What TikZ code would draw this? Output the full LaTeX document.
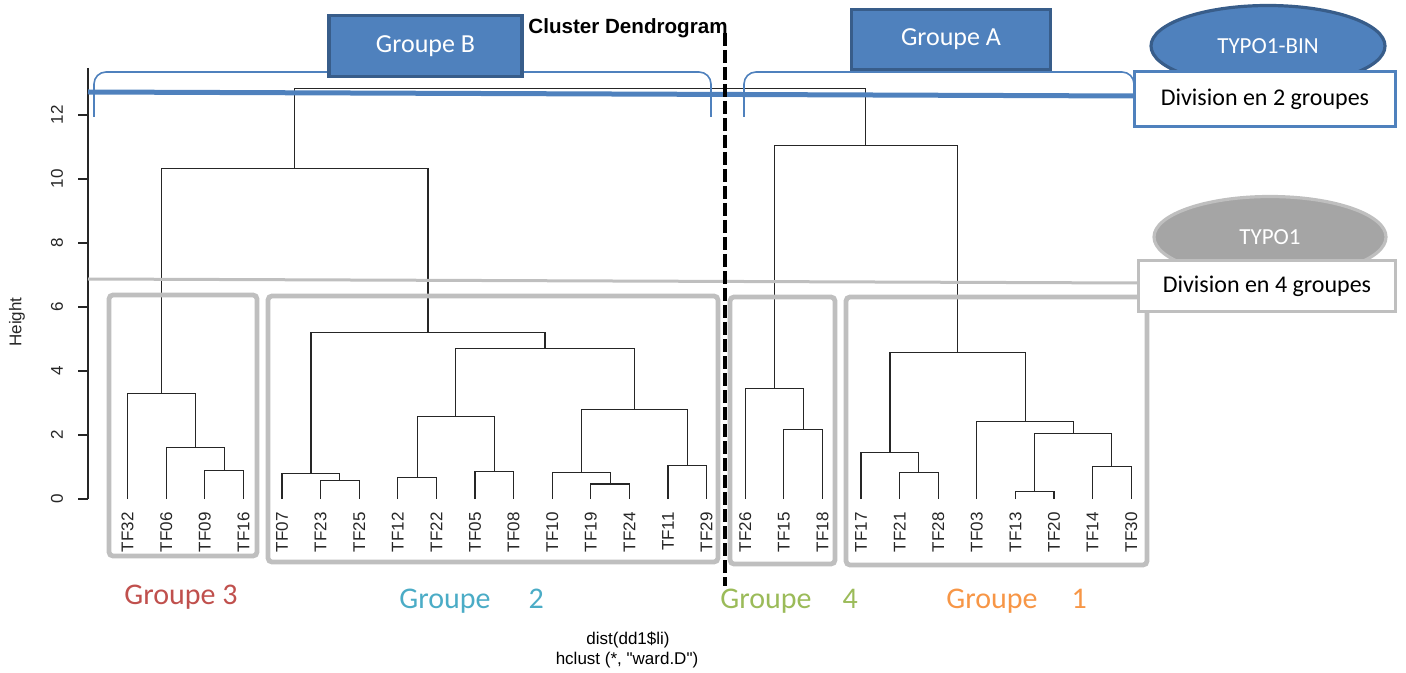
\documentclass[tikz,border=0pt]{standalone}
\usepackage{fontspec}
\usepackage{tikz}
\usetikzlibrary{calc,shapes.geometric}
\newfontfamily\rfont{Liberation Sans}
\newfontfamily\calib{Carlito}
\definecolor{bleu}{HTML}{4F81BD}
\definecolor{bleufonce}{HTML}{385D8A}
\definecolor{gris}{HTML}{BFBFBF}
\definecolor{grisfonce}{HTML}{A5A5A5}
\definecolor{rouge}{HTML}{C0504D}
\definecolor{turquoise}{HTML}{4BACC6}
\definecolor{vert}{HTML}{9BBB59}
\definecolor{orangeclair}{HTML}{F79646}
\tikzstyle{branch}=[
	-,
	draw=black!85,
	line width=0.55pt
]
\tikzstyle{leaf}=[
    rotate=90,
    anchor=east,
    inner sep=0pt,
    text=black!85,
    font=\rfont\fontsize{8.5}{10}\selectfont
]
\tikzstyle{graduation}=[
    rotate=90,
    inner sep=0pt,
    text=black!85,
    font=\rfont\fontsize{8.5}{10}\selectfont
]
\tikzstyle{cadre}=[
    draw=gris,
    line width=2.4pt,
    rounded corners=2pt
]
\tikzstyle{accolade}=[
    draw=bleu,
    line width=0.8pt,
    rounded corners=6pt
]
\tikzstyle{typo}=[
    ellipse,
    inner sep=0pt,
    line width=1.6pt,
    text=white,
    font=\calib\fontsize{11.5}{14}\selectfont
]
\tikzstyle{division}=[
    draw,
    fill=white,
    line width=1.6pt,
    inner sep=0pt,
    font=\calib\fontsize{12}{14}\selectfont
]
\tikzstyle{groupe}=[
    draw=bleufonce,
    fill=bleu,
    line width=1.8pt,
    inner sep=0pt,
    text=white,
    font=\calib\fontsize{13}{15}\selectfont
]
\tikzstyle{etiquette}=[
    anchor=west,
    inner sep=0pt,
    font=\calib\fontsize{15}{17}\selectfont
]
\tikzstyle{separation}=[
    draw=black,
    line width=2pt,
    dash pattern=on 6.5pt off 2pt
]
% junction of two branches at a given height
\newcommand{\fusion}[4]{%
  \coordinate (mid) at ($(#1)!0.5!(#2)$);
  \coordinate (hy) at (0,{499-32*#3});
  \coordinate (#4) at (mid |- hy);
  \draw[branch] (#1) |- (#4) -| (#2);
}

\begin{document}
\begin{tikzpicture}[x=0.5pt,y=-0.5pt]
\useasboundingbox (0,0) rectangle (1406,673);

\node[font=\rfont\bfseries\fontsize{10.3}{12}\selectfont, inner sep=0pt] (titre) at (628,28) {Cluster Dendrogram};

% axis
\draw[branch] (88,68) -- (88,499);
\foreach \h in {0,2,...,12} {
  \draw[branch] (78,{499-32*\h}) -- (88,{499-32*\h});
  \node[graduation] (t\h) at (57,{499-32*\h}) {\h};
}
\node[graduation] (ylab) at (17,322) {Height};

% leaves
\foreach \f [count=\i from 0] in {TF32,TF06,TF09,TF16,TF07,TF23,TF25,TF12,TF22,TF05,TF08,TF10,TF19,TF24,TF11,TF29,TF26,TF15,TF18,TF17,TF21,TF28,TF03,TF13,TF20,TF14,TF30} {
  \coordinate (\f) at ({127.6+38.6*\i},499);
  \node[leaf] (l\f) at ({127.6+38.6*\i},512) {\f};
}

\fusion{TF09}{TF16}{0.90}{m1}
\fusion{TF06}{m1}{1.60}{m2}
\fusion{TF32}{m2}{3.29}{g3}
\fusion{TF23}{TF25}{0.59}{m3}
\fusion{TF07}{m3}{0.80}{m4}
\fusion{TF12}{TF22}{0.67}{m5}
\fusion{TF05}{TF08}{0.85}{m6}
\fusion{m5}{m6}{2.59}{m7}
\fusion{TF19}{TF24}{0.47}{m8}
\fusion{TF10}{m8}{0.83}{m9}
\fusion{TF11}{TF29}{1.06}{m10}
\fusion{m9}{m10}{2.80}{m11}
\fusion{m7}{m11}{4.69}{m12}
\fusion{m4}{m12}{5.19}{g2}
\fusion{g3}{g2}{10.34}{gB}
\fusion{TF15}{TF18}{2.16}{m13}
\fusion{TF26}{m13}{3.46}{g4}
\fusion{TF21}{TF28}{0.83}{m14}
\fusion{TF17}{m14}{1.46}{m15}
\fusion{TF13}{TF20}{0.24}{m16}
\fusion{TF14}{TF30}{1.02}{m17}
\fusion{m16}{m17}{2.05}{m18}
\fusion{TF03}{m18}{2.42}{m19}
\fusion{m15}{m19}{4.59}{g1}
\fusion{g4}{g1}{11.06}{gA}
\fusion{gB}{gA}{12.84}{sommet}

% group frames
\draw[cadre] (109,295) rectangle (257,556);
\draw[cadre] (268,296) rectangle (718,562);
\draw[cadre] (730,297) rectangle (835,564);
\draw[cadre] (846,297) rectangle (1147,565);

% brackets
\draw[accolade] (94,117) -- (94,72) -- (711,72) -- (711,117);
\draw[accolade] (744,117) -- (744,72) -- (1134,72) -- (1134,110);

% callouts
\node[typo, draw=bleufonce, fill=bleu, minimum width=117pt, minimum height=40.5pt] (bin) at (1268,46) {TYPO1-BIN};
\node[division, draw=bleu, minimum width=130.5pt, minimum height=27.5pt] (div2) at (1265,99) {Division en 2 groupes};
\node[typo, draw=gris, fill=grisfonce, minimum width=116pt, minimum height=40.5pt] (typo1) at (1270,237) {TYPO1};
\node[division, draw=gris, minimum width=128.5pt, minimum height=25.5pt] (div4) at (1267,286) {Division en 4 groupes};

\coordinate (coupe2) at (88,92);
\coordinate (coupe4) at (88,279);
\coordinate (niv2) at (0,96);
\coordinate (niv4) at (0,283);
\draw[draw=bleu, line width=2.5pt] (coupe2) -- (div2.west |- niv2);
\draw[draw=gris, line width=1.5pt] (coupe4) -- (div4.west |- niv4);

\node[groupe, minimum width=96.5pt, minimum height=30.5pt] (grB) at (425.5,46) {Groupe B};
\node[groupe, minimum width=99.5pt, minimum height=30pt] (grA) at (951,39.5) {Groupe A};

\coordinate (haut) at (725,33);
\coordinate (bas) at (725,586);
\draw[separation] (haut) -- (bas);

% group labels
\node[etiquette, text=rouge] (lab3) at (124,597) {Groupe 3};
\node[etiquette, text=turquoise] (lab2) at (399,601) {Groupe\hspace{19pt}2};
\node[etiquette, text=vert] (lab4) at (720,601) {Groupe\hspace{15.5pt}4};
\node[etiquette, text=orangeclair] (lab1) at (946,601) {Groupe\hspace{17pt}1};

\node[inner sep=0pt, font=\rfont\fontsize{8.5}{10}\selectfont] (dist) at (628,640) {dist(dd1\$li)};
\node[inner sep=0pt, font=\rfont\fontsize{8.5}{10}\selectfont] (meth) at (627,660) {hclust (*, "ward.D")};

\end{tikzpicture}
\end{document}
